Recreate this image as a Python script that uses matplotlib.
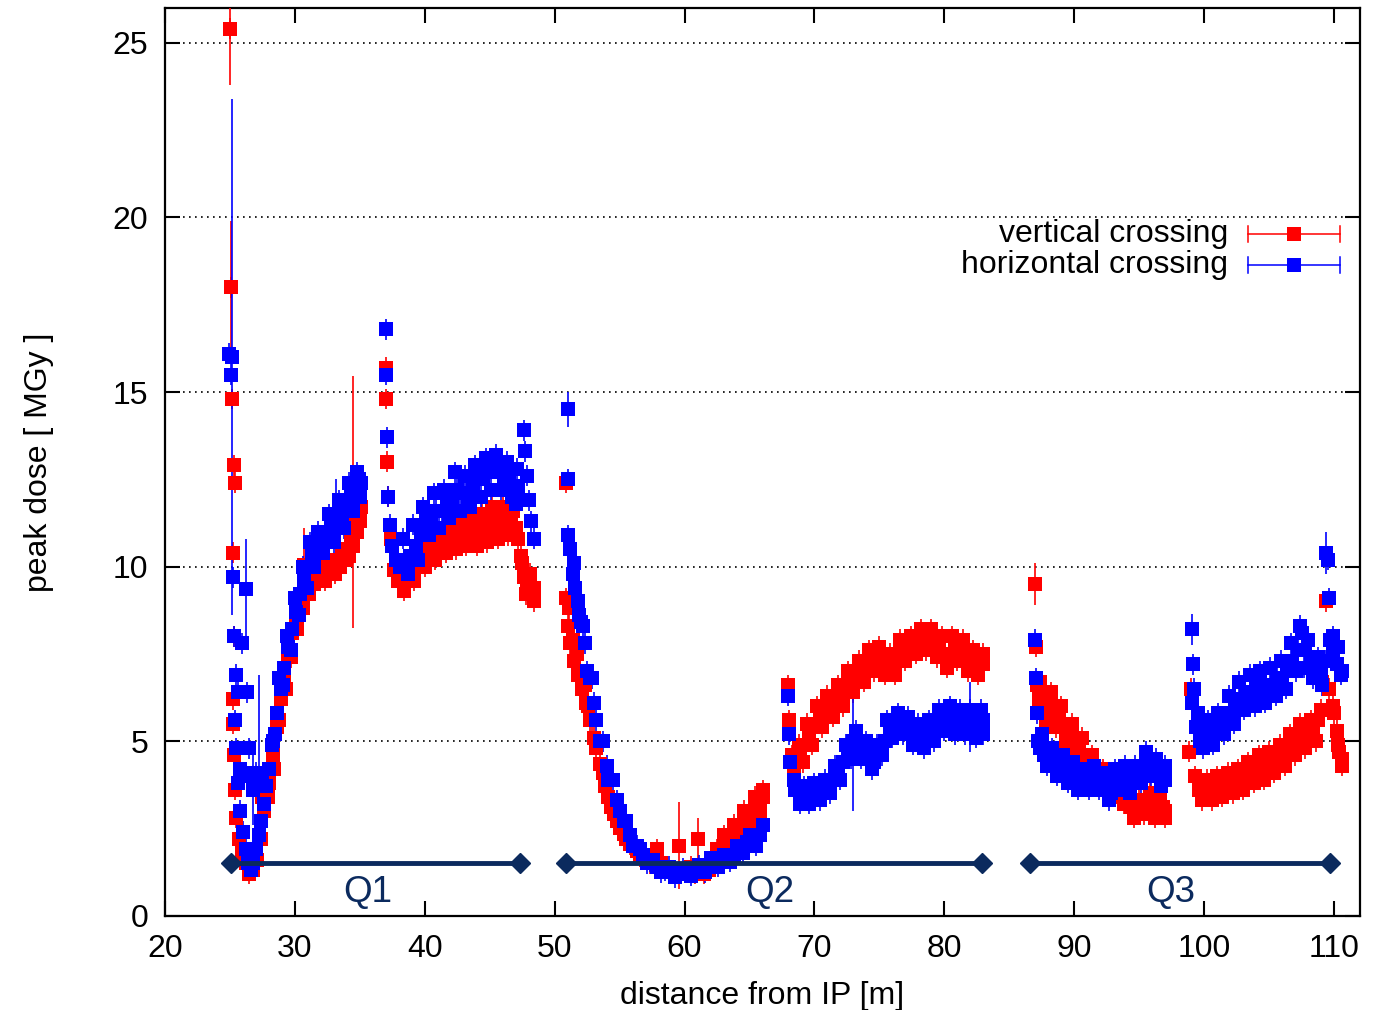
import matplotlib
matplotlib.use("Agg")
import matplotlib.pyplot as plt

plt.rcParams['font.family'] = ['Liberation Sans', 'DejaVu Sans']

# ---------------- data: vertical crossing (red), (x [m], dose [MGy]) ----------------
red_q1a = [(25.0, 25.4), (25.1, 18.0), (25.15, 14.8), (25.3, 12.9), (25.4, 12.4), (25.25, 10.4),
           (25.3, 8.0), (25.2, 6.2), (25.25, 5.5), (25.35, 4.6), (25.4, 3.6), (25.5, 2.8), (25.7, 2.2),
           (25.9, 1.8), (26.2, 1.5), (26.5, 1.2), (26.8, 1.3), (27.1, 1.6), (27.4, 2.2), (27.6, 3.0),
           (27.5, 3.4), (27.9, 3.4), (28.0, 3.8), (28.3, 4.6), (28.6, 5.4), (28.9, 6.2), (29.2, 6.9),
           (29.5, 7.5), (29.8, 8.1), (30.1, 8.6), (30.4, 9.0), (30.7, 9.4), (31.0, 9.6), (31.3, 9.8),
           (31.6, 9.9), (32.0, 10.0), (32.4, 10.1), (32.8, 10.1), (33.2, 10.2), (33.6, 10.3),
           (34.0, 10.5), (34.3, 10.8), (34.6, 11.2), (34.9, 11.5), (35.1, 11.7)]
red_q1b = [(37.0, 15.7), (37.05, 14.8), (37.1, 13.0), (37.2, 12.0), (37.4, 10.8), (37.6, 9.9),
           (37.9, 9.6), (38.2, 9.6), (38.6, 9.7), (39.0, 9.9), (39.4, 10.1), (39.8, 10.3), (40.2, 10.4),
           (40.6, 10.5), (41.0, 10.6), (41.4, 10.7), (41.8, 10.8), (42.2, 10.9), (42.6, 10.9),
           (43.0, 10.9), (43.4, 11.0), (43.8, 11.0), (44.2, 11.0), (44.6, 11.1), (45.0, 11.2),
           (45.4, 11.3), (45.8, 11.2), (46.2, 11.3), (46.6, 11.2), (47.0, 11.1), (47.4, 10.3),
           (47.6, 9.7), (47.9, 9.5), (48.2, 9.3), (48.4, 9.4)]
red_q2a = [(50.9, 12.4), (50.85, 9.1), (51.0, 8.3), (51.2, 7.8), (51.5, 7.3), (51.8, 6.9), (52.1, 6.5),
           (52.4, 6.1), (52.7, 5.6), (53.0, 5.1), (53.5, 4.35), (53.9, 3.7), (54.3, 3.1), (54.8, 2.7),
           (55.3, 2.35), (55.8, 2.05), (56.3, 1.85), (56.8, 1.65), (57.3, 1.5), (57.9, 1.9), (58.5, 1.35),
           (59.1, 1.3), (60.5, 1.4), (61.5, 1.2), (61.9, 1.3), (62.3, 1.6), (62.8, 1.9),
           (63.2, 2.1), (63.6, 2.3), (64.0, 2.5), (64.4, 2.6), (64.8, 2.8), (65.2, 3.0), (65.6, 3.2),
           (66.0, 3.4)]
red_q2b = [(68.0, 6.6), (68.05, 5.6), (68.3, 4.6), (68.6, 4.4), (68.9, 4.5), (69.2, 4.9), (69.6, 5.2),
           (70.0, 5.5), (70.4, 5.7), (70.8, 5.9), (71.2, 6.0), (71.6, 6.2), (72.0, 6.3), (72.4, 6.5),
           (72.8, 6.7), (73.2, 6.9), (73.6, 7.0), (74.0, 7.2), (74.4, 7.4), (74.8, 7.4), (75.2, 7.3),
           (75.6, 7.2), (76.0, 7.2), (76.4, 7.4), (76.8, 7.6), (77.2, 7.7), (77.6, 7.8), (78.0, 7.9),
           (78.4, 7.9), (78.8, 8.0), (79.2, 7.9), (79.6, 7.7), (80.0, 7.4), (80.4, 7.5), (80.8, 7.8),
           (81.2, 7.7), (81.6, 7.4), (82.0, 7.2), (82.4, 7.1), (82.8, 7.3), (83.0, 7.2)]
red_q3a = [(87.05, 7.7), (87.1, 6.6), (87.3, 6.2), (87.6, 6.3), (88.0, 6.0), (88.4, 5.8),
           (88.8, 5.7), (89.2, 5.5), (89.6, 5.2), (90.0, 5.0), (90.4, 4.8), (90.8, 4.6), (91.2, 4.3),
           (91.6, 4.1), (92.0, 4.0), (92.4, 3.9), (92.8, 3.8), (93.2, 3.7), (93.6, 3.5), (94.0, 3.4),
           (94.4, 3.1), (94.8, 3.0), (95.2, 3.1), (95.6, 3.3), (96.0, 3.2), (96.4, 3.0), (96.8, 3.1),
           (97.0, 3.0)]
red_q3b = [(98.8, 4.7), (99.0, 6.5), (99.3, 4.0), (99.6, 3.6), (100.0, 3.5), (100.4, 3.6), (100.8, 3.6),
           (101.2, 3.7), (101.6, 3.7), (102.0, 3.8), (102.4, 3.8), (102.8, 3.9), (103.2, 4.0),
           (103.6, 4.1), (104.0, 4.2), (104.4, 4.3), (104.8, 4.3), (105.2, 4.4), (105.6, 4.5),
           (106.0, 4.6), (106.4, 4.7), (106.8, 4.9), (107.2, 5.0), (107.6, 5.1), (108.0, 5.2),
           (108.4, 5.3), (108.8, 5.6), (109.1, 6.7), (109.4, 9.0), (109.6, 6.5), (109.9, 6.0),
           (110.2, 5.3), (110.4, 4.7), (110.6, 4.5)]
# further red points read from the upper / lower edges of the scattered band
red_spread = [(28.4, 4.2), (28.8, 5.6), (29.3, 6.5), (29.7, 7.4), (30.2, 8.2), (30.6, 8.8), (31.1, 9.2),
              (31.5, 9.5), (31.9, 9.6), (32.3, 9.6), (32.7, 9.8), (33.1, 9.8), (33.5, 10.0), (33.9, 10.2),
              (34.2, 10.3), (34.5, 10.6), (34.8, 11.0), (35.0, 11.3),
              (38.4, 9.3), (38.8, 10.1), (39.2, 9.6), (39.6, 10.5), (40.0, 10.0), (40.4, 10.8),
              (40.8, 10.2), (41.2, 11.0), (41.6, 10.4), (42.0, 11.2), (42.4, 10.5), (42.8, 11.2),
              (43.2, 10.6), (43.6, 11.4), (44.0, 10.6), (44.4, 11.5), (44.8, 10.7), (45.2, 11.7),
              (45.6, 10.8), (46.0, 11.7), (46.4, 10.9), (46.8, 11.6), (47.2, 10.8),
              (47.5, 10.1), (47.8, 9.2), (48.1, 9.8), (48.4, 9.0),
              (51.1, 8.8), (51.4, 7.9), (51.7, 7.5), (52.0, 6.9), (52.3, 6.6), (52.6, 6.0), (52.9, 5.6),
              (53.2, 4.8), (53.7, 4.1), (54.1, 3.4), (54.6, 2.9), (55.0, 2.5), (55.5, 2.2), (56.0, 2.0),
              (56.6, 1.7), (57.1, 1.6), (58.2, 1.5), (60.8, 1.2), (62.1, 1.5), (62.5, 1.9), (63.0, 2.3),
              (63.4, 2.0), (63.8, 2.6), (64.2, 2.4), (64.6, 3.0), (65.0, 2.7), (65.4, 3.4), (65.8, 3.0),
              (66.0, 3.6),
              (68.4, 4.1), (68.8, 4.9), (69.1, 4.4), (69.4, 5.5), (69.8, 4.9), (70.2, 6.0), (70.6, 5.4),
              (71.0, 6.3), (71.4, 5.7), (71.8, 6.6), (72.2, 6.0), (72.6, 7.0), (73.0, 6.4), (73.4, 7.3),
              (73.8, 6.7), (74.2, 7.6), (74.6, 7.0), (75.0, 7.7), (75.4, 6.9), (75.8, 7.5), (76.2, 6.9),
              (76.6, 7.9), (77.0, 7.3), (77.4, 8.0), (77.8, 7.5), (78.2, 8.2), (78.6, 7.6), (79.0, 8.2),
              (79.4, 7.4), (79.8, 8.0), (80.2, 7.1), (80.6, 8.0), (81.0, 7.3), (81.4, 7.9), (81.8, 7.0),
              (82.2, 7.6), (82.6, 6.9), (83.0, 7.5),
              (87.4, 6.7), (87.8, 5.6), (88.2, 6.4), (88.6, 5.4), (89.0, 6.0), (89.4, 5.0), (89.8, 5.5),
              (90.2, 4.6), (90.6, 5.1), (91.0, 4.3), (91.4, 4.6), (91.8, 3.8), (92.2, 4.2), (93.0, 3.4),
              (93.4, 3.9), (93.8, 3.2), (94.2, 3.6), (94.6, 2.8), (95.0, 3.3), (95.4, 2.9), (95.8, 3.5),
              (96.2, 2.8), (96.6, 3.3), (97.0, 2.8),
              (99.8, 3.3), (100.2, 3.9), (100.6, 3.3), (101.0, 4.0), (101.4, 3.4), (101.8, 4.1),
              (102.2, 3.5), (102.6, 4.2), (103.0, 3.6), (103.4, 4.4), (103.8, 3.8), (104.2, 4.6),
              (104.6, 3.9), (105.0, 4.7), (105.4, 4.1), (105.8, 4.9), (106.2, 4.3), (106.6, 5.2),
              (107.0, 4.6), (107.4, 5.5), (107.8, 4.8), (108.2, 5.6), (108.6, 5.0), (109.0, 5.9),
              (110.0, 5.8), (110.3, 4.9), (110.6, 4.3)]
red_err = 0.3
# points with large error bars: (x, y, err)
red_big = [(25.0, 25.4, 1.6), (25.1, 18.0, 1.9), (30.7, 10.05, 1.05), (34.5, 11.85, 3.6),
           (59.6, 2.0, 1.25), (61.0, 2.2, 0.6), (87.0, 9.5, 0.6)]

# ---------------- data: horizontal crossing (blue) ----------------
blue_q1a = [(24.95, 16.1), (25.05, 15.5), (25.25, 9.7), (25.35, 8.0), (25.45, 6.9), (25.6, 6.4),
            (25.9, 7.8), (26.3, 6.4), (25.4, 5.6), (25.5, 4.8), (25.6, 3.8), (25.8, 3.0), (26.0, 2.4),
            (26.2, 1.9), (26.4, 1.5), (26.6, 1.3), (26.8, 1.5), (27.0, 1.9), (27.2, 2.3), (27.4, 2.7),
            (27.6, 3.2), (27.8, 3.7), (28.0, 4.2), (28.3, 5.0), (28.6, 5.8), (28.9, 6.5), (29.2, 7.1),
            (29.5, 7.7), (29.8, 8.2), (30.1, 8.7), (30.4, 9.2), (30.7, 9.6), (31.0, 10.0), (31.3, 10.3),
            (31.6, 10.5), (32.0, 10.7), (32.4, 10.9), (32.8, 11.1), (33.6, 11.5), (34.0, 11.8),
            (34.3, 12.0), (34.6, 12.3), (34.9, 12.5), (35.1, 12.4),
            (25.8, 4.2), (26.2, 4.1), (26.6, 4.0), (27.0, 4.1), (27.5, 3.9), (26.5, 4.8)]
blue_q1b = [(37.0, 16.8), (37.05, 15.5), (37.1, 13.7), (37.2, 12.0), (37.3, 11.2), (37.5, 10.6),
            (37.8, 10.2), (38.1, 10.0), (38.5, 10.1), (38.9, 10.3), (39.3, 10.6), (39.7, 10.9),
            (40.1, 11.3), (40.5, 11.5), (40.9, 11.6), (41.3, 11.6), (41.7, 11.8), (42.1, 12.0),
            (42.5, 12.2), (42.9, 12.1), (43.3, 12.0), (43.7, 12.2), (44.1, 12.5), (44.5, 12.6),
            (44.9, 12.7), (45.3, 12.8), (45.7, 12.7), (46.1, 12.5), (46.5, 12.6), (46.9, 12.3),
            (47.2, 12.2), (47.6, 13.9), (47.7, 13.3), (47.9, 12.6), (48.0, 11.9), (48.2, 11.3),
            (48.4, 10.8)]
blue_q2a = [(51.05, 12.5), (51.0, 10.9), (51.2, 10.5), (51.4, 9.8), (51.6, 9.4), (51.8, 9.0),
            (52.0, 8.4), (52.3, 7.8), (52.7, 6.8), (53.0, 6.1), (53.5, 5.0), (54.0, 4.3), (54.3, 3.9),
            (54.8, 3.3), (55.3, 2.7), (55.8, 2.3), (56.3, 2.0), (56.8, 1.75), (57.3, 1.55), (57.9, 1.4),
            (58.5, 1.3), (59.0, 1.25), (59.6, 1.2), (60.2, 1.25), (60.8, 1.3), (61.4, 1.35),
            (61.8, 1.45), (62.3, 1.5), (62.8, 1.55), (63.3, 1.65), (63.8, 1.75), (64.3, 1.9),
            (64.8, 2.1), (65.3, 2.2), (65.8, 2.3)]
blue_q2b = [(68.0, 6.3), (68.05, 5.2), (68.1, 4.4), (68.4, 3.9), (68.7, 3.6), (69.0, 3.5), (69.4, 3.4),
            (69.8, 3.4), (70.2, 3.5), (70.6, 3.6), (71.0, 3.7), (71.4, 3.9), (71.8, 4.1), (72.2, 4.4),
            (72.6, 4.7), (73.4, 4.9), (73.8, 4.7), (74.2, 4.5), (74.6, 4.4), (75.0, 4.6),
            (75.4, 5.0), (75.8, 5.3), (76.2, 5.5), (76.6, 5.5), (77.0, 5.4), (77.4, 5.3), (77.8, 5.2),
            (78.2, 5.1), (78.6, 5.1), (79.0, 5.3), (79.4, 5.5), (79.8, 5.6), (80.2, 5.7), (80.6, 5.6),
            (81.0, 5.5), (81.4, 5.6), (82.2, 5.3), (82.6, 5.5), (83.0, 5.6)]
blue_q3a = [(87.0, 7.9), (87.05, 6.8), (87.1, 5.8), (87.2, 5.0), (87.4, 4.8), (87.7, 4.6), (88.0, 4.6),
            (88.4, 4.4), (88.8, 4.3), (89.2, 4.2), (89.6, 4.1), (90.0, 4.0), (90.4, 3.9), (90.8, 3.8),
            (91.2, 3.9), (91.6, 4.0), (92.0, 3.9), (92.4, 3.7), (92.8, 3.5), (93.2, 3.8), (93.6, 4.0),
            (94.0, 4.0), (94.4, 3.8), (94.8, 3.9), (95.2, 4.2), (95.6, 4.4), (96.0, 4.3), (96.4, 4.1),
            (96.8, 4.0), (97.0, 3.9)]
blue_q3b = [(99.15, 7.2), (99.2, 6.5), (99.1, 6.1), (99.4, 5.4), (99.7, 5.0), (100.0, 5.1),
            (100.4, 5.2), (100.8, 5.3), (101.2, 5.4), (101.6, 5.6), (102.0, 5.8), (102.4, 6.0),
            (102.8, 6.2), (103.2, 6.3), (103.6, 6.4), (104.0, 6.5), (104.4, 6.6), (104.8, 6.5),
            (105.2, 6.6), (105.6, 6.8), (106.0, 6.8), (106.4, 7.0), (106.8, 7.3), (107.2, 7.6),
            (107.5, 8.1), (107.8, 7.6), (108.2, 7.2), (108.6, 7.0), (109.0, 6.9), (109.3, 7.3),
            (109.5, 10.2), (109.6, 9.1), (109.7, 7.9), (109.9, 7.5), (110.2, 7.2), (110.5, 6.9)]
blue_spread = [(28.2, 4.9), (28.5, 5.2), (28.8, 6.8), (29.1, 6.6), (29.4, 8.0), (29.7, 7.6), (30.0, 9.1),
               (30.3, 8.6), (30.6, 10.0), (30.9, 9.4), (31.2, 10.7), (31.5, 10.0), (31.8, 11.0),
               (32.2, 10.4), (32.6, 11.5), (33.0, 10.7), (33.4, 11.9), (33.8, 11.1), (34.2, 12.4),
               (34.5, 11.6), (34.8, 12.7), (35.0, 12.0),
               (38.3, 10.8), (38.7, 9.8), (39.1, 11.2), (39.5, 10.2), (39.9, 11.7), (40.3, 10.9),
               (40.7, 12.1), (41.1, 11.1), (41.5, 12.2), (41.9, 11.4), (42.3, 12.7), (42.7, 11.6),
               (43.1, 12.6), (43.5, 11.7), (43.9, 12.9), (44.3, 12.0), (44.7, 13.1), (45.1, 12.2),
               (45.5, 13.2), (45.9, 12.2), (46.3, 13.0), (46.7, 12.0), (47.1, 12.8), (47.0, 11.8),
               (51.5, 10.1), (51.9, 8.6), (52.2, 8.3), (52.5, 7.0), (52.9, 6.8), (53.2, 5.6), (53.7, 5.0),
               (54.1, 3.9), (54.5, 3.9), (55.0, 3.0), (55.5, 2.7), (56.0, 2.0), (56.6, 1.9), (57.1, 1.5),
               (57.6, 1.6), (58.2, 1.25), (58.8, 1.4), (59.3, 1.1), (59.9, 1.35), (60.5, 1.15),
               (61.1, 1.45), (61.6, 1.25), (62.0, 1.65), (62.6, 1.4), (63.0, 1.75), (63.5, 1.55),
               (64.0, 2.0), (64.5, 1.8), (65.0, 2.3), (65.5, 2.0), (66.0, 2.6),
               (68.5, 3.6), (68.9, 3.2), (69.2, 3.7), (69.6, 3.2), (70.0, 3.8), (70.4, 3.3), (70.8, 3.9),
               (71.2, 3.5), (71.6, 4.3), (72.0, 3.9), (72.4, 4.9), (72.8, 4.5), (73.2, 5.3), (73.6, 4.5),
               (74.0, 5.0), (74.4, 4.2), (74.8, 4.9), (75.2, 4.6), (75.6, 5.6), (76.0, 5.1), (76.4, 5.8),
               (76.8, 5.2), (77.2, 5.7), (77.6, 4.9), (78.0, 5.5), (78.4, 4.8), (78.8, 5.6), (79.2, 5.0),
               (79.6, 5.9), (80.0, 5.3), (80.4, 6.0), (80.8, 5.2), (81.2, 5.9), (81.6, 5.2), (82.0, 5.9),
               (82.4, 5.1), (82.8, 5.9), (83.0, 5.2),
               (87.5, 5.2), (87.9, 4.3), (88.3, 4.8), (88.7, 4.0), (89.1, 4.6), (89.5, 3.8), (89.9, 4.4),
               (90.3, 3.6), (90.7, 4.2), (91.1, 3.6), (91.5, 4.3), (91.9, 3.6), (92.3, 4.1), (92.7, 3.3),
               (93.1, 4.2), (93.5, 3.6), (93.9, 4.3), (94.3, 3.5), (94.7, 4.3), (95.1, 3.8), (95.5, 4.7),
               (95.9, 4.0), (96.3, 4.5), (96.7, 3.7), (97.0, 4.3),
               (99.5, 5.8), (99.9, 4.8), (100.3, 5.6), (100.7, 4.9), (101.1, 5.8), (101.5, 5.2),
               (101.9, 6.3), (102.3, 5.5), (102.7, 6.7), (103.1, 5.9), (103.5, 6.9), (103.9, 6.0),
               (104.3, 7.0), (104.7, 6.1), (105.1, 7.1), (105.5, 6.3), (105.9, 7.3), (106.3, 6.5),
               (106.7, 7.8), (107.1, 7.0), (107.4, 8.3), (107.7, 7.1), (108.0, 7.9), (108.4, 6.8),
               (108.8, 7.4), (109.1, 6.6), (109.9, 8.0), (110.3, 7.7), (110.6, 7.0)]
blue_err = 0.3
blue_big = [(25.15, 16.0, 7.4), (26.2, 9.35, 1.45), (27.2, 4.0, 2.9), (26.8, 3.6, 1.0),
            (33.2, 11.4, 1.1), (51.0, 14.5, 0.5), (73.0, 5.0, 2.0), (82.0, 5.7, 1.0),
            (99.1, 8.2, 0.45), (109.4, 10.4, 0.6)]

# magnet extents: (name, start, end, label x)
q_ranges = [("Q1", 25.1, 47.3, 35.6), ("Q2", 50.9, 82.9, 66.6), ("Q3", 86.6, 109.7, 97.4)]
q_level = 1.5
q_label_y = 0.65

RED = '#ff0000'
BLUE = '#0000ff'
NAVY = '#0b2a5e'
FS = 23

fig = plt.figure(figsize=(13.83, 10.10), dpi=100)
ax = fig.add_axes([0.1193, 0.0934, 0.9834 - 0.1193, 0.9921 - 0.0934])


def draw(points, big, default_err, color):
    xs = [p[0] for p in points] + [b[0] for b in big]
    ys = [p[1] for p in points] + [b[1] for b in big]
    es = [default_err] * len(points) + [b[2] for b in big]
    ax.errorbar(xs, ys, yerr=es, fmt='s', color=color, ms=10.5, mew=0,
                ecolor=color, elinewidth=1.2, capsize=6, capthick=1.2,
                zorder=3)


red_all = red_q1a + red_q1b + red_q2a + red_q2b + red_q3a + red_q3b + red_spread
blue_all = blue_q1a + blue_q1b + blue_q2a + blue_q2b + blue_q3a + blue_q3b + blue_spread
draw(red_all, red_big, red_err, RED)
draw(blue_all, blue_big, blue_err, BLUE)

for name, x0, x1, xl in q_ranges:
    ax.plot([x0, x1], [q_level, q_level], color=NAVY, lw=3.5, marker='D', ms=10, zorder=4)
    ax.text(xl, q_label_y, name, color=NAVY, fontsize=26.5, ha='center', va='center', zorder=5)

ax.set_xlim(20, 112)
ax.set_ylim(0, 26)
ax.set_xticks(range(20, 111, 10))
ax.set_yticks(range(0, 26, 5))
ax.tick_params(direction='in', length=11, width=1.5, top=True, right=True,
               labelsize=FS, colors='black')
ax.tick_params(axis='x', pad=13)
ax.tick_params(axis='y', pad=12)
for s in ax.spines.values():
    s.set_linewidth(1.6)
ax.yaxis.grid(True, linestyle=(0, (1.0, 2.6)), color='black', linewidth=1.2)
ax.set_axisbelow(True)

ax.set_xlabel('distance from IP [m]', fontsize=FS)
ax.set_ylabel('peak dose [ MGy ]', fontsize=FS)
ax.xaxis.set_label_coords(0.5, -0.072)
ax.yaxis.set_label_coords(-0.093, 0.5)

# legend (gnuplot style)
legend_items = [("vertical crossing", RED, 0.751), ("horizontal crossing", BLUE, 0.7167)]
for label, col, yy in legend_items:
    ax.text(0.8895, yy, label, transform=ax.transAxes, ha='right', va='center', fontsize=FS)
    ax.plot([0.9063, 0.9833], [yy, yy], transform=ax.transAxes, color=col, lw=1.1)
    ax.plot([0.9063, 0.9063], [yy - 0.0085, yy + 0.0085], transform=ax.transAxes, color=col, lw=1.1)
    ax.plot([0.9833, 0.9833], [yy - 0.0085, yy + 0.0085], transform=ax.transAxes, color=col, lw=1.1)
    ax.plot([0.9448], [yy], transform=ax.transAxes, marker='s', color=col, ms=10.5, mew=0)

fig.savefig('out.png', dpi=100)
